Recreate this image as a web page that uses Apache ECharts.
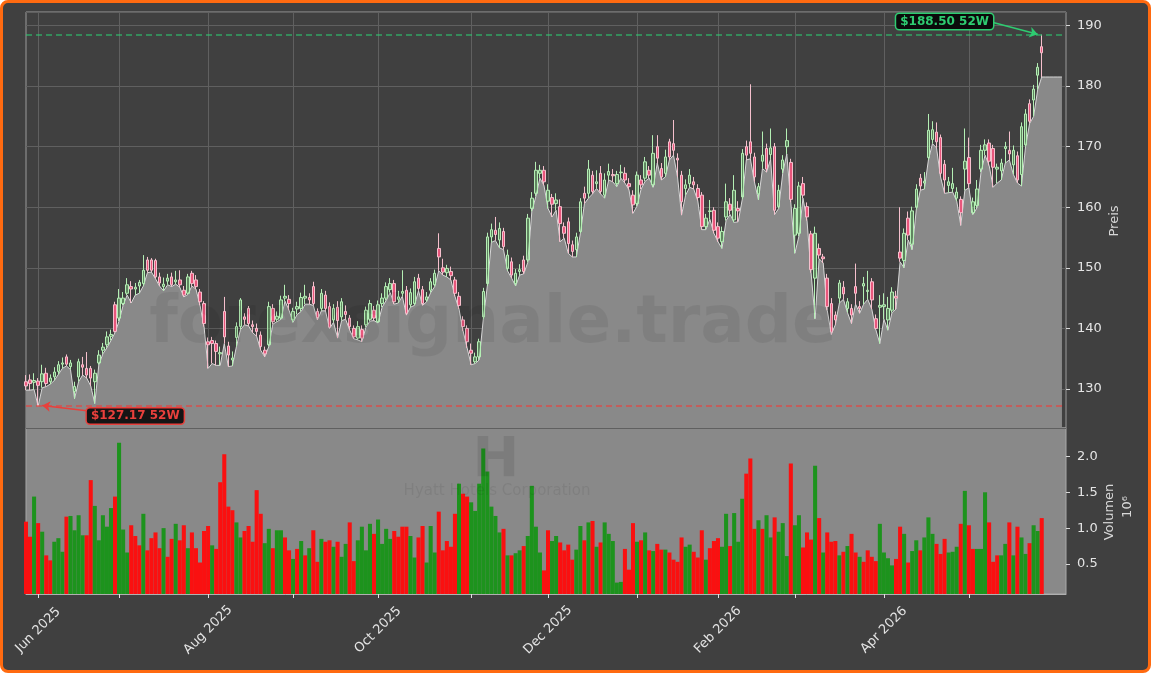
<!DOCTYPE html>
<html><head><meta charset="utf-8">
<script src="https://cdn.jsdelivr.net/npm/echarts@6/dist/echarts.min.js"></script>
<style>
html,body{margin:0;padding:0;background:#ffffff;width:1151px;height:673px;overflow:hidden}
#frame{position:absolute;left:0;top:0;width:1151px;height:673px;box-sizing:border-box;border:3px solid #ff6a10;border-radius:8px;background:#404040;z-index:0}
#chart{position:absolute;left:0;top:0;width:1151px;height:673px;z-index:1}
</style></head><body>
<div id="frame"></div><div id="chart"></div>
<script>
// ---------- data ----------
const START_DATE = '2025-05-28';
const HOLIDAYS = ['2025-06-19','2025-07-04','2025-09-01','2025-11-27','2025-12-25','2026-01-01','2026-01-19','2026-02-16','2026-04-03','2026-05-25'];
const MONTH_NAMES = ['Jan','Feb','Mar','Apr','May','Jun','Jul','Aug','Sep','Oct','Nov','Dec'];
const PAD_COUNT = 6;      // empty slots at the right end of the x axis
const AREA_TAIL = 5;      // the low-area keeps its last level over these slots

const OPEN = [
131.2,131.5,131.1,131.3,131.2,132.6,131.2,132.0,132.9,134.1,
135.3,133.7,129.6,132.0,134.0,133.4,133.4,131.2,134.3,136.4,
137.3,138.7,143.9,141.7,144.1,145.8,146.9,146.5,147.0,147.4,
151.3,151.3,151.2,148.5,146.9,147.8,148.5,147.7,148.0,146.3,
145.8,149.1,148.0,146.0,144.1,137.8,138.0,137.5,135.8,142.8,
137.1,134.8,138.5,140.3,141.9,143.3,140.6,140.0,138.9,136.4,
137.3,143.3,141.5,141.7,145.0,144.8,141.4,143.2,143.3,145.0,
145.1,146.9,142.8,143.3,145.5,143.6,141.4,143.5,141.9,142.8,
141.7,140.0,138.4,139.8,140.6,141.5,143.0,141.1,144.1,145.0,
146.4,147.4,144.8,145.8,146.3,143.9,144.1,148.3,146.4,144.7,
146.3,147.2,153.2,150.0,149.2,149.4,148.0,145.3,141.4,140.0,
136.4,134.5,135.3,141.9,147.4,155.1,156.2,154.6,156.0,149.9,
151.0,147.4,149.4,151.3,151.3,159.8,162.3,165.6,166.1,161.0,
161.6,160.6,160.1,156.8,157.6,153.8,153.0,156.0,162.3,162.3,
165.3,163.9,165.6,162.0,165.3,165.4,163.9,165.7,165.6,163.9,
162.0,160.6,164.5,164.8,166.1,163.7,170.0,166.4,165.6,170.8,
170.5,168.1,165.3,163.1,163.9,164.2,163.1,162.0,156.8,159.3,
159.5,156.8,154.3,158.4,160.5,157.9,159.8,161.7,170.0,170.8,
168.3,162.2,167.6,169.7,168.7,170.0,160.1,166.3,170.0,167.4,
155.4,155.7,163.9,160.1,155.6,148.3,153.2,151.8,148.3,144.1,
142.2,145.0,146.8,143.3,143.3,146.9,143.6,147.0,146.1,147.7,
141.6,143.5,143.6,141.4,143.0,145.3,152.6,151.2,158.2,153.9,
160.0,164.8,164.0,168.2,171.2,172.4,171.5,167.1,163.6,163.1,
161.5,161.3,166.3,168.2,159.1,160.3,166.3,169.4,170.6,169.7,
166.3,166.0,169.7,169.4,167.0,168.5,165.4,170.3,177.1,177.7,
181.8,186.5];
const HIGH = [
132.3,132.4,132.6,131.8,134.0,133.5,132.4,133.6,134.6,135.2,
135.7,134.8,131.2,135.0,135.3,136.1,133.8,133.2,136.4,137.6,
139.5,139.8,144.4,146.5,146.0,148.3,147.8,147.5,148.0,152.1,
151.8,151.6,151.5,149.2,148.4,149.0,149.2,149.5,149.6,147.0,
149.0,149.5,148.8,146.5,144.5,138.5,138.6,138.0,137.0,145.2,
137.8,136.2,141.0,145.0,142.5,143.7,141.3,140.8,139.5,137.0,
144.4,144.0,142.8,145.4,147.2,145.5,143.4,144.4,145.9,147.2,
145.8,147.7,143.3,146.5,146.2,144.3,144.0,144.5,145.0,143.8,
142.2,140.5,141.2,140.5,143.6,144.7,143.7,144.6,145.8,147.6,
148.3,148.0,146.2,149.6,147.0,146.6,148.5,149.0,147.0,146.0,
148.3,149.7,155.7,151.5,150.5,150.2,148.5,146.0,142.0,140.5,
137.5,136.0,138.3,146.7,155.8,157.3,158.4,157.5,156.6,153.0,
151.7,149.8,150.6,152.0,158.9,162.5,167.5,167.0,166.8,163.8,
162.2,162.3,161.3,157.5,158.3,154.5,155.8,161.5,163.4,167.8,
166.0,166.1,166.8,165.6,167.2,166.3,166.0,167.0,166.6,164.8,
162.8,165.9,165.3,168.3,166.8,171.9,171.9,167.3,169.5,171.3,
174.4,168.9,166.0,164.6,166.3,165.0,163.8,162.5,158.9,161.2,
160.0,157.5,156.8,163.9,161.5,165.3,161.0,169.6,171.0,180.3,
169.0,164.0,172.5,170.5,173.0,170.6,163.7,168.6,173.0,168.0,
160.5,164.2,165.0,160.8,156.1,156.8,154.0,152.3,149.0,145.0,
142.8,148.0,147.8,145.0,144.0,150.7,144.5,148.5,149.5,148.3,
142.3,145.5,145.8,145.2,146.8,146.2,160.0,156.5,159.3,160.1,
163.8,165.5,165.8,175.4,174.2,174.0,172.0,167.8,165.0,166.5,
163.3,161.8,173.0,171.5,161.6,164.5,170.3,171.2,171.2,170.3,
167.2,168.0,170.8,172.5,170.2,169.2,174.0,176.2,177.8,180.2,
183.8,188.5];
const LOW = [
129.8,129.8,129.9,127.17,130.2,130.4,130.8,131.4,132.4,133.4,
133.8,133.2,128.4,131.2,132.3,131.8,130.5,127.6,134.0,135.8,
136.8,138.0,139.3,141.2,143.8,145.5,144.2,145.5,145.8,147.0,
149.2,149.3,148.2,147.0,146.2,147.2,146.9,147.3,146.8,145.2,
145.6,147.0,146.5,143.8,140.3,133.4,134.2,133.9,133.9,137.5,
133.7,133.8,137.0,139.8,140.6,140.4,139.3,138.7,136.4,135.3,
137.0,140.7,141.1,141.5,144.5,143.0,141.0,142.3,142.8,144.0,
144.0,143.8,141.4,142.9,142.9,140.0,141.0,138.4,141.3,141.5,
139.7,138.3,138.1,137.8,140.2,141.2,141.3,140.9,143.5,144.6,
145.9,144.0,144.2,145.3,142.2,143.5,143.8,146.2,143.8,144.4,
145.9,146.9,149.5,148.8,148.5,148.0,145.3,143.2,139.6,136.8,
134.0,134.2,134.8,141.5,147.0,154.2,154.5,153.3,153.0,149.5,
148.3,147.0,148.8,149.0,150.9,159.3,161.8,164.8,163.6,159.8,
158.4,159.5,154.3,154.9,152.4,151.8,151.8,155.7,160.6,161.5,
162.2,163.1,162.2,161.5,164.5,164.2,163.4,164.8,164.0,162.9,
159.0,160.2,163.0,164.3,164.8,163.3,167.3,164.5,165.0,167.8,
168.6,165.0,158.7,162.0,163.3,163.0,161.1,156.3,156.3,158.0,
155.7,154.3,153.2,157.8,158.8,157.5,157.6,161.3,167.8,168.0,
164.2,161.2,166.4,165.8,167.9,158.8,159.8,165.6,168.8,160.8,
152.4,155.2,161.5,157.8,149.2,141.6,151.5,150.8,143.0,139.0,
140.6,144.2,144.8,142.6,140.8,144.0,142.5,144.0,144.8,143.2,
139.8,137.5,141.5,139.7,142.6,143.2,151.0,150.0,154.6,153.0,
159.6,162.8,163.0,167.8,170.5,169.8,165.0,162.3,162.4,162.5,
161.0,157.0,162.8,163.2,158.8,159.9,165.8,168.6,166.9,163.3,
164.0,164.5,167.3,167.8,165.4,164.0,163.5,170.0,173.8,175.0,
179.4,181.5];
const CLOSE = [
130.5,130.9,131.4,130.6,132.5,130.9,131.8,132.8,134.0,134.3,
134.1,134.3,130.4,134.5,133.6,132.3,131.8,132.6,135.6,136.9,
138.6,139.0,139.5,145.0,145.0,147.2,146.5,146.8,147.6,149.6,
149.6,149.6,148.5,147.5,147.3,148.3,147.2,148.0,147.2,145.5,
148.5,147.4,146.9,144.4,140.8,137.3,137.5,136.2,136.0,138.6,
135.6,135.1,140.3,144.7,141.5,140.8,140.3,139.5,137.0,135.8,
143.6,141.1,142.0,144.7,145.3,144.1,142.8,143.6,145.1,145.3,
144.7,144.1,141.8,145.8,143.3,140.2,143.3,141.3,144.4,142.3,
140.3,138.6,140.3,138.4,143.0,144.1,141.7,143.9,145.0,146.9,
147.4,144.4,145.2,146.1,142.5,145.9,147.7,146.6,144.1,145.2,
147.7,149.1,151.8,149.3,149.9,148.7,145.8,143.8,140.3,137.8,
135.9,135.3,137.8,146.1,155.1,156.3,155.5,156.5,153.5,152.1,
148.8,149.1,149.7,149.4,158.2,161.5,166.1,166.1,164.2,162.8,
160.5,161.2,157.3,155.7,154.0,152.7,155.1,160.9,161.5,166.3,
162.6,164.2,162.6,164.5,165.9,165.2,165.4,165.8,164.5,163.4,
160.4,165.3,163.7,167.5,165.3,168.9,168.1,165.0,168.3,168.3,
169.4,167.8,160.9,163.7,165.3,163.7,161.6,156.8,158.2,159.4,
156.2,154.9,156.0,160.9,159.5,162.8,159.4,168.9,168.6,168.9,
165.0,163.4,168.6,166.3,169.8,159.5,162.8,167.8,171.0,161.3,
159.8,163.5,162.0,158.4,149.7,155.7,152.1,151.5,143.6,139.4,
141.4,147.5,145.7,144.4,142.2,145.8,143.3,147.4,146.3,144.7,
140.0,143.8,143.9,143.3,146.0,145.0,151.6,155.7,155.4,159.4,
163.0,163.5,164.3,172.7,172.8,170.8,165.6,164.5,164.2,163.9,
162.5,159.1,167.6,163.9,160.9,163.0,169.4,170.3,167.6,166.6,
166.6,167.3,170.0,168.8,169.4,164.5,173.3,175.4,174.2,179.5,
183.1,185.5];
// volume in millions of shares
const VOLUME = [
1.09,0.88,1.44,1.07,0.95,0.62,0.55,0.81,0.86,0.67,
1.16,1.17,0.97,1.18,0.90,0.90,1.67,1.31,0.83,1.18,
1.02,1.28,1.44,2.19,0.98,0.66,1.04,0.89,0.76,1.20,
0.69,0.86,0.94,0.72,1.00,0.60,0.85,1.06,0.83,1.04,
0.72,0.94,0.72,0.52,0.96,1.03,0.76,0.71,1.64,2.03,
1.30,1.25,1.08,0.87,0.96,1.03,0.81,1.53,1.20,0.79,
0.99,0.72,0.97,0.97,0.87,0.69,0.57,0.71,0.82,0.62,
0.72,0.97,0.53,0.85,0.81,0.83,0.74,0.81,0.60,0.78,
1.08,0.54,0.83,1.02,0.69,1.06,0.92,1.12,0.78,0.99,
0.85,0.96,0.88,1.02,1.02,0.89,0.59,0.87,1.03,0.52,
1.03,0.66,1.23,0.69,0.82,0.74,1.20,1.62,1.48,1.44,
1.36,1.24,1.62,2.11,1.79,1.30,1.17,0.94,0.99,0.62,
0.62,0.65,0.69,0.75,0.89,1.59,1.02,0.66,0.41,0.97,
0.82,0.89,0.80,0.69,0.77,0.56,0.70,1.03,0.83,1.08,
1.10,0.74,0.80,1.08,0.92,0.82,0.24,0.25,0.71,0.42,
1.07,0.81,0.83,0.94,0.69,0.68,0.78,0.70,0.70,0.66,
0.56,0.53,0.87,0.74,0.77,0.67,0.59,0.97,0.56,0.72,
0.82,0.86,0.74,1.20,0.75,1.21,0.81,1.41,1.76,1.97,
0.99,1.11,0.99,1.18,0.87,1.15,0.95,1.07,0.61,1.90,
1.04,1.18,0.73,0.94,0.84,1.87,1.14,0.66,0.94,0.81,
0.82,0.62,0.67,0.75,0.92,0.66,0.60,0.53,0.69,0.60,
0.54,1.06,0.66,0.58,0.48,0.57,1.02,0.92,0.52,0.68,
0.83,0.69,0.87,1.15,0.92,0.78,0.64,0.85,0.66,0.67,
0.74,1.06,1.52,1.04,0.71,0.71,0.71,1.50,1.08,0.53,
0.62,0.62,0.78,1.08,0.62,1.02,0.87,0.64,0.79,1.04,
0.96,1.14];
// 1 = green volume bar, 0 = red volume bar
const VOLUME_UP = [
0,0,1,0,1,0,0,1,1,1, 0,1,1,1,1,0,0,1,1,1, 1,1,0,1,1,1,0,0,0,1,
0,0,0,0,1,0,0,1,0,0, 1,0,0,0,0,0,1,0,0,0, 0,0,1,1,0,0,0,0,0,1,
1,0,1,1,0,0,1,0,1,0, 1,0,0,1,0,0,1,0,1,1, 0,0,1,1,1,1,0,1,1,1,
1,0,0,0,0,1,1,0,0,1, 1,1,0,0,0,0,0,1,0,0, 1,1,1,1,1,1,1,1,0,1,
0,1,1,0,1,1,1,1,0,0, 1,1,0,0,0,0,1,1,0,1, 0,1,0,1,1,1,1,1,0,0,
0,1,0,1,0,1,0,0,1,0, 0,0,0,1,1,0,0,0,1,0, 0,0,1,1,0,1,1,1,0,0,
0,1,0,1,1,0,1,1,1,0, 1,1,0,0,0,1,0,1,0,0, 0,1,0,1,0,0,1,0,0,0,
0,1,1,1,1,0,0,1,0,1, 1,0,1,1,1,0,0,0,1,1, 1,0,1,0,0,1,1,1,0,0,
0,1,1,0,1,0,1,1,0,1, 1,0];

const HIGH_52W = 188.50, LOW_52W = 127.17;
const HIGH_LABEL = '$188.50 52W', LOW_LABEL = '$127.17 52W';
const PRICE_RANGE = [123.56, 192.23];
const VOLUME_RANGE = [0.081, 2.397];

// ---------- build ----------
function tradingDays(start, count, holidays) {
  const out = []; const d = new Date(start + 'T00:00:00Z');
  while (out.length < count) {
    const wd = d.getUTCDay(); const s = d.toISOString().slice(0, 10);
    if (wd !== 0 && wd !== 6 && holidays.indexOf(s) < 0) out.push(s);
    d.setUTCDate(d.getUTCDate() + 1);
  }
  return out;
}
const N = CLOSE.length;
const dates = tradingDays(START_DATE, N, HOLIDAYS);
const categories = dates.concat(Array.from({length: PAD_COUNT}, (_, i) => 'pad' + i));
const tickSet = new Set(), labelMap = {};
for (let i = 1; i < dates.length; i++) {
  if (dates[i].slice(5, 7) !== dates[i - 1].slice(5, 7)) {
    tickSet.add(i);
    const m = +dates[i].slice(5, 7) - 1;
    if (m % 2 === 1) labelMap[i] = MONTH_NAMES[m] + ' ' + dates[i].slice(0, 4);
  }
}
const candleData = [], areaData = [], volData = [];
for (let i = 0; i < categories.length; i++) {
  if (i < N) {
    candleData.push([OPEN[i], CLOSE[i], LOW[i], HIGH[i]]);
    areaData.push(LOW[i]);
    volData.push({value: VOLUME[i], itemStyle: {color: VOLUME_UP[i] ? '#1d931d' : '#fa1010'}});
  } else {
    candleData.push('-');
    areaData.push(i < N + AREA_TAIL ? LOW[N - 1] : '-');
    volData.push('-');
  }
}
const highIdx = HIGH.indexOf(Math.max.apply(null, HIGH));
const lowIdx = LOW.indexOf(Math.min.apply(null, LOW));

const GREEN = '#2ecc71', RED = '#e8403c';
const FONT = '"DejaVu Sans", sans-serif';
const txt = '#e4e4e4';

const chart = echarts.init(document.getElementById('chart'), null, {renderer: 'canvas'});
chart.setOption({
  animation: false,
  backgroundColor: 'transparent',
  grid: [
    {left: 26, top: 12, width: 1040, height: 416, show: true, borderColor: '#9a9a9a', borderWidth: 1, backgroundColor: 'transparent'},
    {left: 26, top: 428, width: 1040, height: 166, show: true, borderColor: '#a8a8a8', borderWidth: 1, backgroundColor: '#898989'}
  ],
  xAxis: [
    {type: 'category', gridIndex: 0, data: categories, boundaryGap: false,
     axisLine: {show: false}, axisTick: {show: false}, axisLabel: {show: false},
     splitLine: {show: true, interval: (i) => tickSet.has(i), lineStyle: {color: '#606060', width: 1}}},
    {type: 'category', gridIndex: 1, data: categories, boundaryGap: false,
     axisLine: {show: true, lineStyle: {color: '#b0b0b0'}},
     axisTick: {show: true, interval: (i) => tickSet.has(i), length: 4, lineStyle: {color: '#e0e0e0'}},
     axisLabel: {show: true, interval: (i) => labelMap[i] !== undefined, formatter: (v, i) => labelMap[i] || '',
       rotate: 45, align: 'center', verticalAlign: 'middle', margin: 36, color: txt, fontSize: 13, fontFamily: FONT},
     splitLine: {show: false}}
  ],
  yAxis: [
    {type: 'value', gridIndex: 0, position: 'right', min: PRICE_RANGE[0], max: PRICE_RANGE[1], splitNumber: 6,
     axisLine: {show: false}, axisTick: {show: true, length: 4, lineStyle: {color: '#d8d8d8'}},
     axisLabel: {color: txt, fontSize: 13, fontFamily: FONT, margin: 11, showMinLabel: false, showMaxLabel: false,
       formatter: (v) => (Math.abs(v / 10 - Math.round(v / 10)) < 1e-6 ? String(Math.round(v)) : '')},
     splitLine: {show: true, lineStyle: {color: '#606060', width: 1}}},
    {type: 'value', gridIndex: 1, position: 'right', min: VOLUME_RANGE[0], max: VOLUME_RANGE[1], splitNumber: 5,
     axisLine: {show: false}, axisTick: {show: true, length: 4, lineStyle: {color: '#d8d8d8'}},
     axisLabel: {color: txt, fontSize: 13, fontFamily: FONT, margin: 11, showMinLabel: false, showMaxLabel: false,
       formatter: (v) => (Math.abs(v * 2 - Math.round(v * 2)) < 1e-6 ? v.toFixed(1) : '')},
     splitLine: {show: false}}
  ],
  series: [
    {type: 'line', name: 'Tief', xAxisIndex: 0, yAxisIndex: 0, data: areaData, showSymbol: false, symbol: 'none',
     lineStyle: {color: '#d8d8d8', width: 1}, areaStyle: {color: '#898989', opacity: 1, origin: 'start'}, z: 2, silent: true},
    {type: 'candlestick', name: 'Preis', xAxisIndex: 0, yAxisIndex: 0, data: candleData, barWidth: 3, z: 3,
     itemStyle: {color: 'rgba(144,238,144,0.4)', color0: '#e8567c', borderColor: '#b4efb4', borderColor0: '#f6c0cd', borderWidth: 1},
     markLine: {silent: true, symbol: ['none', 'none'], label: {show: false}, animation: false,
       data: [
         {yAxis: HIGH_52W, lineStyle: {color: 'rgba(46,204,113,0.72)', type: [6, 4], width: 1.5}},
         {yAxis: LOW_52W, lineStyle: {color: 'rgba(232,64,60,0.8)', type: [6, 4], width: 1.5}},
         [{coord: [239, 190.5], symbol: 'none', lineStyle: {color: GREEN, width: 1.6, type: 'solid'}},
          {coord: [highIdx - 1, HIGH_52W + 0.05], symbol: 'arrow', symbolSize: 8, lineStyle: {color: GREEN, width: 1.6, type: 'solid'}}],
         [{coord: [15, 126.4], symbol: 'none', lineStyle: {color: RED, width: 1.6, type: 'solid'}},
          {coord: [lowIdx + 1, LOW_52W + 0.1], symbol: 'arrow', symbolSize: 8, lineStyle: {color: RED, width: 1.6, type: 'solid'}}]
       ]},
     markPoint: {silent: true, symbol: 'rect', symbolSize: 1, itemStyle: {color: 'rgba(0,0,0,0)'}, animation: false,
       data: [
         {name: HIGH_LABEL, coord: [227, 190.66], label: {show: true, position: 'inside', formatter: '{b}', color: GREEN,
           fontWeight: 'bold', fontSize: 12, fontFamily: FONT, backgroundColor: '#0b0b0b', borderColor: GREEN, borderWidth: 1.5,
           borderRadius: 3, padding: [2, 4, 1, 4]}},
         {name: LOW_LABEL, coord: [27, 125.55], label: {show: true, position: 'inside', formatter: '{b}', color: RED,
           fontWeight: 'bold', fontSize: 12, fontFamily: FONT, backgroundColor: '#151515', borderColor: RED, borderWidth: 1.5,
           borderRadius: 3, padding: [2, 4, 1, 4]}}
       ]}},
    {type: 'bar', name: 'Volumen', xAxisIndex: 1, yAxisIndex: 1, data: volData, barCategoryGap: '0%', barWidth: '100%', z: 2}
  ],
  graphic: [
    {type: 'text', x: 493, y: 325, z: 50, silent: true,
     style: {text: 'forexsignale.trade', font: 'bold 66px "DejaVu Sans"', fill: 'rgba(0,0,0,0.065)', align: 'center', verticalAlign: 'middle', textAlign: 'center', textVerticalAlign: 'middle'}},
    {type: 'text', x: 496, y: 461, z: 50, silent: true,
     style: {text: 'H', font: 'bold 56px "DejaVu Sans"', fill: 'rgba(0,0,0,0.09)', align: 'center', verticalAlign: 'middle', textAlign: 'center', textVerticalAlign: 'middle'}},
    {type: 'text', x: 497, y: 491, z: 50, silent: true,
     style: {text: 'Hyatt Hotels Corporation', font: '15px "DejaVu Sans"', fill: 'rgba(0,0,0,0.07)', align: 'center', verticalAlign: 'middle', textAlign: 'center', textVerticalAlign: 'middle'}},
    {type: 'text', x: 1115, y: 221, rotation: Math.PI / 2, silent: true,
     style: {text: 'Preis', font: '13px "DejaVu Sans"', fill: '#d8d8d8', align: 'center', verticalAlign: 'middle', textAlign: 'center', textVerticalAlign: 'middle'}},
    {type: 'text', x: 1110, y: 512, rotation: Math.PI / 2, silent: true,
     style: {text: 'Volumen', font: '13px "DejaVu Sans"', fill: '#d8d8d8', align: 'center', verticalAlign: 'middle', textAlign: 'center', textVerticalAlign: 'middle'}},
    {type: 'text', x: 1128, y: 507, rotation: Math.PI / 2, silent: true,
     style: {text: '10\u2076', font: '13px "DejaVu Sans"', fill: '#d8d8d8', align: 'center', verticalAlign: 'middle', textAlign: 'center', textVerticalAlign: 'middle'}}
  ]
});
</script></body></html>
